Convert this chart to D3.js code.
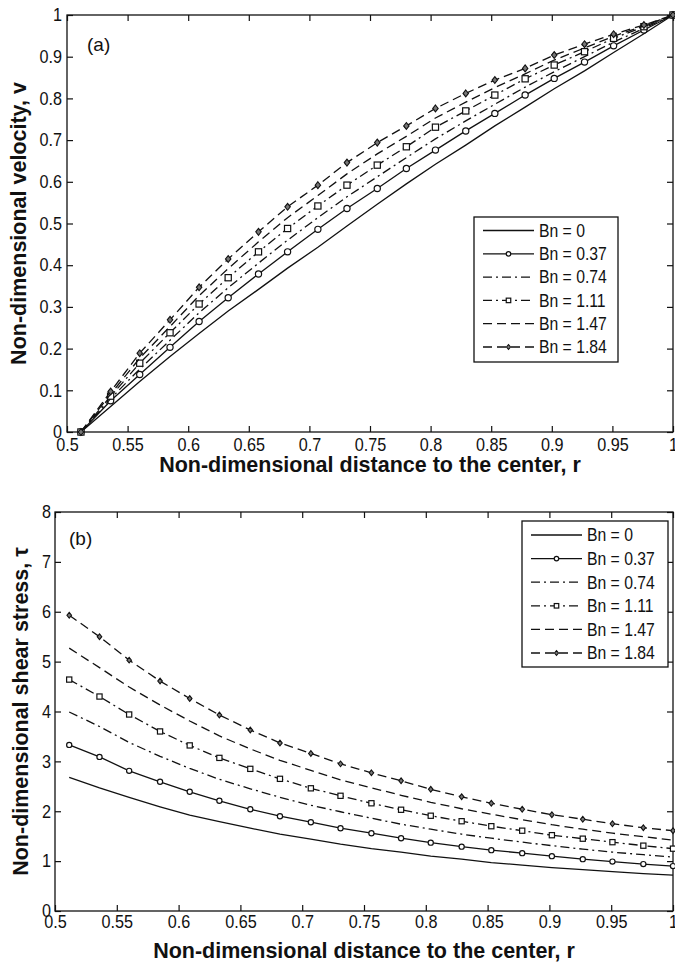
<!DOCTYPE html>
<html><head><meta charset="utf-8">
<script src="https://cdn.jsdelivr.net/npm/d3@7"></script>
<style>body{margin:0;background:#fff} svg{display:block}</style>
</head><body><svg id="chart" width="675" height="964"></svg>
<script>
// ---------- data ----------
const radius = [0.5115, 0.536, 0.560, 0.585, 0.609, 0.633, 0.658, 0.682, 0.707, 0.731, 0.756, 0.780, 0.804, 0.829, 0.853, 0.878, 0.902, 0.927, 0.951, 0.976, 1.0];
const seriesLabels = ["Bn = 0", "Bn = 0.37", "Bn = 0.74", "Bn = 1.11", "Bn = 1.47", "Bn = 1.84"];

const velocityBn0   = [0, 0.061, 0.121, 0.181, 0.236, 0.290, 0.342, 0.393, 0.443, 0.494, 0.546, 0.595, 0.642, 0.688, 0.734, 0.779, 0.823, 0.866, 0.910, 0.955, 1.0];
const velocityBn037 = [0, 0.075, 0.138, 0.203, 0.265, 0.322, 0.379, 0.432, 0.486, 0.536, 0.584, 0.632, 0.676, 0.722, 0.764, 0.808, 0.848, 0.887, 0.926, 0.964, 1.0];
const velocityBn074 = [0, 0.080, 0.151, 0.220, 0.286, 0.346, 0.405, 0.460, 0.514, 0.564, 0.612, 0.658, 0.703, 0.746, 0.786, 0.827, 0.864, 0.900, 0.935, 0.968, 1.0];
const velocityBn111 = [0, 0.086, 0.165, 0.238, 0.307, 0.370, 0.432, 0.488, 0.542, 0.592, 0.640, 0.684, 0.731, 0.770, 0.808, 0.847, 0.880, 0.912, 0.944, 0.972, 1.0];
const velocityBn147 = [0, 0.091, 0.177, 0.253, 0.327, 0.392, 0.456, 0.514, 0.567, 0.619, 0.667, 0.709, 0.753, 0.791, 0.826, 0.859, 0.892, 0.921, 0.949, 0.974, 1.0];
const velocityBn184 = [0, 0.097, 0.189, 0.269, 0.347, 0.415, 0.480, 0.540, 0.592, 0.646, 0.694, 0.734, 0.776, 0.812, 0.844, 0.872, 0.904, 0.930, 0.954, 0.976, 1.0];

const stressBn0   = [2.68, 2.47, 2.28, 2.09, 1.92, 1.79, 1.66, 1.54, 1.44, 1.34, 1.25, 1.18, 1.10, 1.04, 0.97, 0.92, 0.87, 0.83, 0.79, 0.75, 0.72];
const stressBn037 = [3.33, 3.09, 2.81, 2.59, 2.39, 2.21, 2.04, 1.90, 1.78, 1.66, 1.56, 1.46, 1.37, 1.29, 1.22, 1.16, 1.10, 1.04, 0.99, 0.94, 0.90];
const stressBn074 = [3.99, 3.70, 3.38, 3.10, 2.86, 2.64, 2.45, 2.28, 2.12, 1.99, 1.86, 1.74, 1.64, 1.54, 1.46, 1.38, 1.31, 1.24, 1.18, 1.13, 1.08];
const stressBn111 = [4.64, 4.30, 3.94, 3.60, 3.32, 3.07, 2.85, 2.65, 2.46, 2.31, 2.16, 2.03, 1.91, 1.80, 1.70, 1.61, 1.52, 1.45, 1.38, 1.31, 1.25];
const stressBn147 = [5.27, 4.88, 4.49, 4.13, 3.81, 3.51, 3.25, 3.02, 2.82, 2.63, 2.47, 2.32, 2.18, 2.05, 1.94, 1.83, 1.73, 1.64, 1.56, 1.49, 1.42];
const stressBn184 = [5.93, 5.50, 5.03, 4.61, 4.26, 3.93, 3.63, 3.37, 3.16, 2.95, 2.77, 2.61, 2.44, 2.29, 2.16, 2.04, 1.93, 1.84, 1.75, 1.67, 1.61];

const xTicks = [0.5, 0.55, 0.6, 0.65, 0.7, 0.75, 0.8, 0.85, 0.9, 0.95, 1];
const velocityTicks = [0, 0.1, 0.2, 0.3, 0.4, 0.5, 0.6, 0.7, 0.8, 0.9, 1];
const stressTicks = [0, 1, 2, 3, 4, 5, 6, 7, 8];

// ---------- styling ----------
const FONT = "'Liberation Sans', Arial, Helvetica, sans-serif";
const INK = "#111";
const styles = [
  {dash: null, marker: null},
  {dash: null, marker: "circle"},
  {dash: "9,4,2,4", marker: null},
  {dash: "9,4,2,4", marker: "square"},
  {dash: "9,5", marker: null},
  {dash: "9,5", marker: "diamond"}
];

const svg = d3.select("#chart");

function condense(sel, k) {
  sel.each(function () {
    const t = d3.select(this);
    const x = +t.attr("x") || 0, y = +t.attr("y") || 0;
    t.attr("x", null).attr("y", null)
     .attr("transform", `translate(${x},${y}) scale(${k},1)`);
  });
}

function drawMarker(g, type, cx, cy, s) {
  if (type === "circle") {
    g.append("circle").attr("cx", cx).attr("cy", cy).attr("r", s * 0.5)
      .attr("fill", "#fff").attr("stroke", INK).attr("stroke-width", 1.2);
  } else if (type === "square") {
    g.append("rect").attr("x", cx - s / 2).attr("y", cy - s / 2).attr("width", s).attr("height", s)
      .attr("fill", "#fff").attr("stroke", INK).attr("stroke-width", 1.2);
  } else if (type === "diamond") {
    const h = s * 0.55;
    g.append("path").attr("d", `M${cx},${cy - h}L${cx + h * 0.8},${cy}L${cx},${cy + h}L${cx - h * 0.8},${cy}Z`)
      .attr("fill", "#777").attr("stroke", INK).attr("stroke-width", 1.1);
  }
}

function panel(cfg) {
  const x = d3.scaleLinear().domain([0.5, 1]).range([cfg.left, cfg.right]);
  const y = d3.scaleLinear().domain(cfg.yDomain).range([cfg.bottom, cfg.top]);
  const g = svg.append("g");

  // axes with inward ticks on all four sides
  const ax = [
    g.append("g").attr("transform", `translate(0,${cfg.bottom})`)
      .call(d3.axisBottom(x).tickValues(xTicks).tickSize(-6).tickPadding(cfg.xPad).tickFormat(d => String(d))),
    g.append("g").attr("transform", `translate(0,${cfg.top})`)
      .call(d3.axisTop(x).tickValues(xTicks).tickSize(-6).tickFormat("")),
    g.append("g").attr("transform", `translate(${cfg.left},0)`)
      .call(d3.axisLeft(y).tickValues(cfg.yTicks).tickSize(-6).tickPadding(cfg.yPad).tickFormat(d => String(d))),
    g.append("g").attr("transform", `translate(${cfg.right},0)`)
      .call(d3.axisRight(y).tickValues(cfg.yTicks).tickSize(-6).tickFormat(""))
  ];
  ax.forEach(a => {
    a.select(".domain").remove();
    a.selectAll(".tick line").attr("stroke", INK).attr("stroke-width", 1.2);
    a.selectAll(".tick text").attr("font-family", FONT).attr("font-size", 18).attr("fill", INK);
  });
  condense(ax[0].selectAll(".tick text"), 0.9);
  condense(ax[2].selectAll(".tick text"), 0.9);

  g.append("rect").attr("x", cfg.left).attr("y", cfg.top)
    .attr("width", cfg.right - cfg.left).attr("height", cfg.bottom - cfg.top)
    .attr("fill", "none").attr("stroke", INK).attr("stroke-width", 1.3);

  // curves
  const line = d3.line().x((d, i) => x(radius[i])).y(d => y(d));
  cfg.series.forEach((vals, k) => {
    const st = styles[k];
    g.append("path").datum(vals).attr("d", line)
      .attr("fill", "none").attr("stroke", INK).attr("stroke-width", 1.3)
      .attr("stroke-dasharray", st.dash);
    if (st.marker) {
      const mg = g.append("g");
      vals.forEach((v, i) => drawMarker(mg, st.marker, x(radius[i]), y(v), cfg.markerSize));
    }
  });

  // axis titles
  g.append("text").attr("x", (cfg.left + cfg.right) / 2).attr("y", cfg.xTitleY)
    .attr("text-anchor", "middle").attr("font-family", FONT).attr("font-weight", "bold")
    .attr("font-size", 21.5).attr("fill", INK).text("Non-dimensional distance to the center, r");
  g.append("text").attr("transform", `translate(${cfg.yTitleX},${(cfg.top + cfg.bottom) / 2}) rotate(-90)`)
    .attr("text-anchor", "middle").attr("font-family", FONT).attr("font-weight", "bold")
    .attr("font-size", 21.5).attr("fill", INK).text(cfg.yTitle);

  // panel tag
  g.append("text").attr("x", cfg.tagX).attr("y", cfg.tagY)
    .attr("font-family", FONT).attr("font-size", 19).attr("fill", INK).text(cfg.tag);

  // legend
  const L = cfg.legend;
  g.append("rect").attr("x", L.x0).attr("y", L.y0).attr("width", L.x1 - L.x0).attr("height", L.y1 - L.y0)
    .attr("fill", "#fff").attr("stroke", INK).attr("stroke-width", 1.3);
  seriesLabels.forEach((lab, k) => {
    const yy = L.row0 + k * L.step;
    const st = styles[k];
    g.append("line").attr("x1", L.lx0).attr("x2", L.lx1).attr("y1", yy).attr("y2", yy)
      .attr("stroke", INK).attr("stroke-width", 1.3).attr("stroke-dasharray", st.dash);
    if (st.marker) drawMarker(g, st.marker, (L.lx0 + L.lx1) / 2, yy, 4.5);
    const t = g.append("text").attr("x", L.tx).attr("y", yy).attr("dy", "0.36em")
      .attr("font-family", FONT).attr("font-size", 17.5).attr("fill", INK).text(lab);
    condense(t, 0.9);
  });
}

panel({
  left: 67, right: 673, top: 15, bottom: 432,
  yDomain: [0, 1], yTicks: velocityTicks, xPad: 6, yPad: 5,
  series: [velocityBn0, velocityBn037, velocityBn074, velocityBn111, velocityBn147, velocityBn184],
  markerSize: 6.2,
  xTitleY: 472, yTitleX: 26, yTitle: "Non-dimensional velocity, v",
  tag: "(a)", tagX: 87, tagY: 51,
  legend: {x0: 474, x1: 618, y0: 217, y1: 362, row0: 230.5, step: 23.3, lx0: 483, lx1: 534, tx: 539}
});

panel({
  left: 55, right: 673, top: 512, bottom: 911,
  yDomain: [0, 8], yTicks: stressTicks, xPad: 4, yPad: 4,
  series: [stressBn0, stressBn037, stressBn074, stressBn111, stressBn147, stressBn184],
  markerSize: 5.2,
  xTitleY: 958, yTitleX: 28, yTitle: "Non-dimensional shear stress, \u03C4",
  tag: "(b)", tagX: 69, tagY: 545,
  legend: {x0: 522, x1: 668, y0: 521, y1: 667, row0: 535, step: 23.6, lx0: 531, lx1: 582, tx: 587}
});
</script></body></html>
